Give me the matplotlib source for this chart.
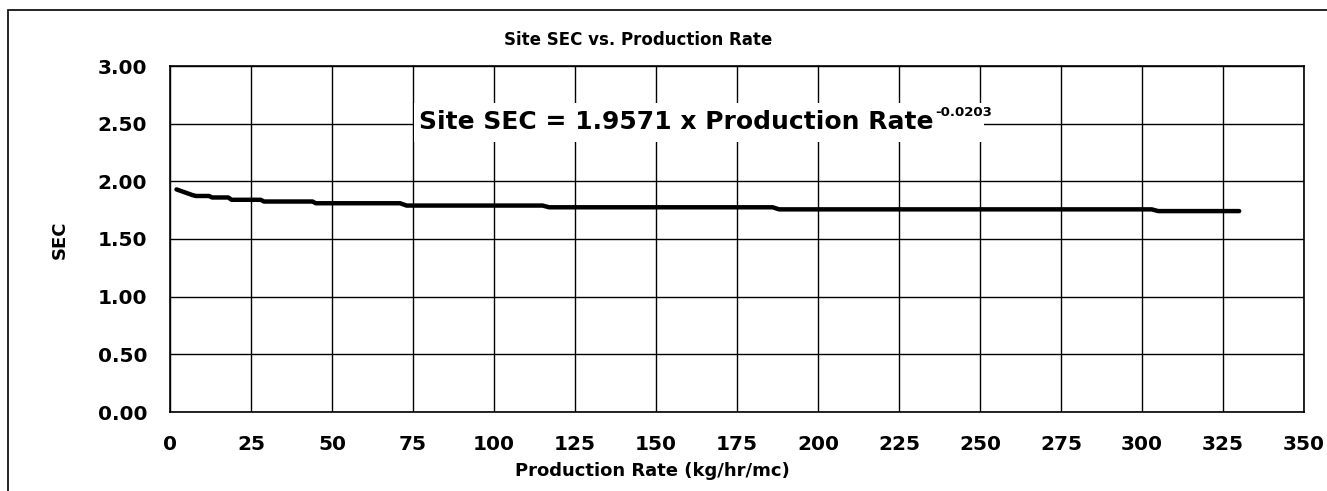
import matplotlib
matplotlib.use("Agg")
import matplotlib.pyplot as plt
from matplotlib.patches import Rectangle

# Data (stepped series)
production_rate = [2, 3, 5, 7, 8, 12, 13, 18, 19, 28, 29, 44, 45, 71, 73, 115,
                   117, 186, 188, 303, 305, 330]
site_sec = [1.93, 1.92, 1.90, 1.88, 1.873, 1.873, 1.86, 1.86, 1.84, 1.84, 1.825, 1.825,
            1.81, 1.81, 1.79, 1.79, 1.775, 1.775, 1.757, 1.757, 1.742, 1.742]
x_ticks = list(range(0, 351, 25))
y_ticks = [0.0, 0.5, 1.0, 1.5, 2.0, 2.5, 3.0]

W, H = 1327, 491
fig = plt.figure(figsize=(W / 100, H / 100), dpi=100)
ax = fig.add_axes([170 / W, 1 - 412 / H, (1304 - 170) / W, (412 - 66) / H])

ax.plot(production_rate, site_sec, color="black", linewidth=3.2,
        solid_joinstyle="round", solid_capstyle="round", zorder=3)

ax.set_xlim(0, 350)
ax.set_ylim(0, 3.0)
ax.set_xticks(x_ticks)
ax.set_yticks(y_ticks)
ax.set_xticklabels([str(v) for v in x_ticks])
ax.set_yticklabels([f"{v:.2f}" for v in y_ticks])
ax.tick_params(length=0, labelsize=14.5, pad=16.5)
for lab in ax.get_xticklabels() + ax.get_yticklabels():
    lab.set_fontweight("bold")
ax.grid(True, color="black", linewidth=1.0)
ax.set_axisbelow(True)
for s in ax.spines.values():
    s.set_color("black")
    s.set_linewidth(1.2)

# white box behind the equation, above the grid
ax.add_patch(Rectangle((414 / W, 1 - 142 / H), (984 - 414) / W, (142 - 103) / H,
                       transform=fig.transFigure, facecolor="white",
                       edgecolor="none", zorder=2))

eq_main = fig.text(419 / W, 1 - 122 / H, "Site SEC = 1.9571 x Production Rate",
                   ha="left", va="center", fontsize=18, fontweight="bold",
                   zorder=5)
fig.canvas.draw()
bb = eq_main.get_window_extent()
fig.text((bb.x1 + 2) / W, 1 - 112 / H, "-0.0203", ha="left", va="center",
         fontsize=9.5, fontweight="bold", zorder=5)

fig.text(638 / W, 1 - 40 / H, "Site SEC vs. Production Rate", ha="center",
         va="center", fontsize=12, fontweight="bold")
fig.text(652 / W, 1 - 471 / H, "Production Rate (kg/hr/mc)", ha="center",
         va="center", fontsize=13, fontweight="bold")
fig.text(60 / W, 1 - 240 / H, "SEC", ha="center", va="center", rotation=90,
         fontsize=13, fontweight="bold")

fig.patches.append(Rectangle((8 / W, -0.1), 1.2, 1 - 10 / H + 0.1,
                             transform=fig.transFigure, fill=False,
                             edgecolor="black", linewidth=1.2))

fig.savefig("out.png", dpi=100)
